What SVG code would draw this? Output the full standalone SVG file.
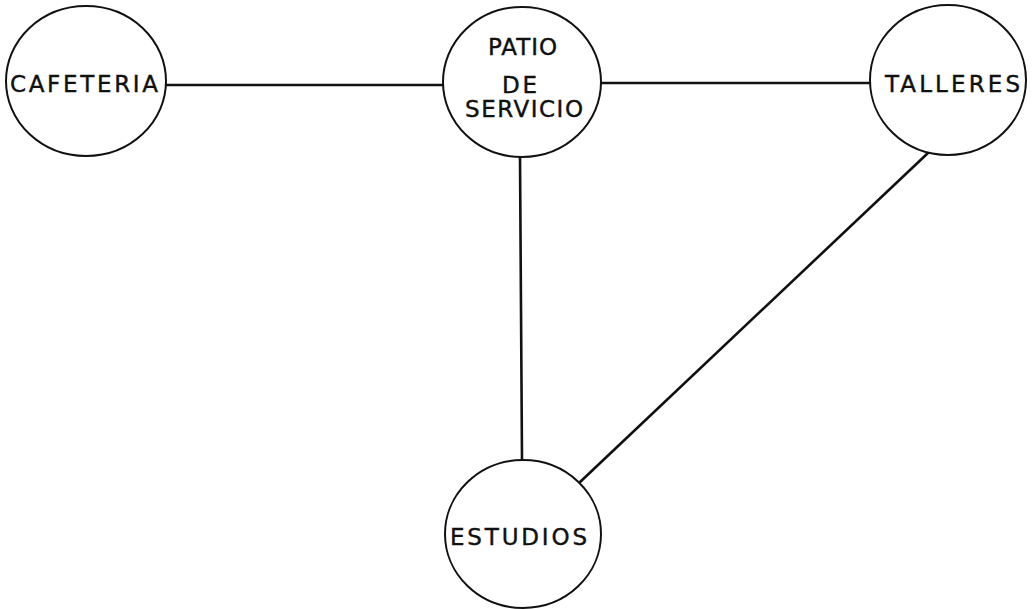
<svg xmlns="http://www.w3.org/2000/svg" width="1033" height="609" viewBox="0 0 1033 609">
<style>
.node ellipse{fill:#fff;stroke:#111;stroke-width:2}
.node text{font-family:"DejaVu Sans","Liberation Sans",sans-serif;font-size:23px;fill:#111;stroke:#111;stroke-width:0.4}
.edges line{stroke:#111;stroke-width:2.6;stroke-linecap:round}
</style>
<rect width="1033" height="609" fill="#fff"/>
<g class="edges">
<line x1="166" y1="85" x2="443" y2="85"/>
<line x1="601" y1="83" x2="871" y2="83"/>
<line x1="520" y1="157" x2="522" y2="460"/>
<line x1="928" y1="153" x2="579" y2="483"/>
</g>
<g id="cafeteria" class="node">
<ellipse cx="86" cy="81" rx="80" ry="75"/>
<text x="10" y="92" textLength="148" lengthAdjust="spacing">CAFETERIA</text>
</g>
<g id="patio" class="node">
<ellipse cx="522" cy="82" rx="79" ry="75"/>
<text x="488" y="55" textLength="69" lengthAdjust="spacing">PATIO</text>
<text x="502" y="93" textLength="35" lengthAdjust="spacing">DE</text>
<text x="465" y="117" textLength="118" lengthAdjust="spacing">SERVICIO</text>
</g>
<g id="talleres" class="node">
<ellipse cx="948" cy="80" rx="78" ry="75"/>
<text x="885" y="92" textLength="135" lengthAdjust="spacing">TALLERES</text>
</g>
<g id="estudios" class="node">
<ellipse cx="523" cy="534" rx="78" ry="74"/>
<text x="450" y="545" textLength="137" lengthAdjust="spacing">ESTUDIOS</text>
</g>
</svg>
